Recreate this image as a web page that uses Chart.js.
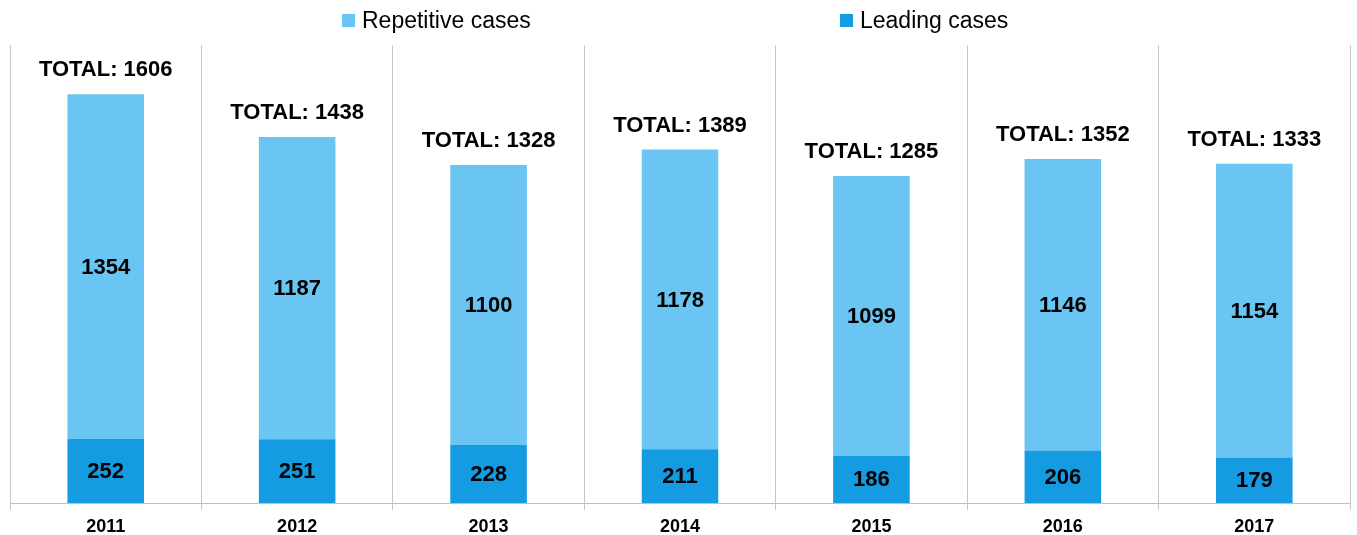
<!DOCTYPE html>
<html lang="en">
<head>
    <meta charset="UTF-8">
    <title>Cases by year</title>
    <script src="https://cdn.jsdelivr.net/npm/chart.js"></script>
    <style>
        body {
            margin: 0;
            background: #ffffff;
            font-family: "Liberation Sans", Arial, sans-serif;
        }
        #wrap {
            position: relative;
            width: 1357px;
            height: 535px;
        }
        .legend-item {
            position: absolute;
            top: 7px;
            font-size: 23px;
            color: #000;
            display: flex;
            align-items: center;
            white-space: nowrap;
        }
        .legend-item span.box {
            display: inline-block;
            width: 13px;
            height: 13px;
            margin-right: 7px;
        }
    </style>
</head>
<body>
<div id="wrap">
    <div class="legend-item" style="left: 342px;"><span class="box" style="background:#6BC5F2"></span>Repetitive cases</div>
    <div class="legend-item" style="left: 840px;"><span class="box" style="background:#149BE1"></span>Leading cases</div>
    <canvas id="casesChart"></canvas>
</div>

<script>
    // data
    const years = ["2011", "2012", "2013", "2014", "2015", "2016", "2017"];
    const leadingCases = [252, 251, 228, 211, 186, 206, 179];
    const repetitiveCases = [1354, 1187, 1100, 1178, 1099, 1146, 1154];
    const totals = [1606, 1438, 1328, 1389, 1285, 1352, 1333];

    const lightBlue = "#6BC5F2";
    const darkBlue = "#149BE1";

    // draws the numbers inside the bars and the totals above them
    const labelPlugin = {
        id: "barLabels",
        afterDatasetsDraw(chart) {
            const ctx = chart.ctx;
            ctx.save();
            ctx.fillStyle = "#000";
            ctx.textAlign = "center";
            ctx.textBaseline = "middle";
            ctx.font = "bold 22px 'Liberation Sans', Arial, sans-serif";
            chart.data.datasets.forEach(function(ds, i) {
                const meta = chart.getDatasetMeta(i);
                meta.data.forEach(function(bar, j) {
                    ctx.fillText(ds.data[j], bar.x, (bar.y + bar.base) / 2 + 1);
                });
            });
            const top = chart.getDatasetMeta(1);
            ctx.textBaseline = "alphabetic";
            top.data.forEach(function(bar, j) {
                ctx.fillText("TOTAL: " + totals[j], bar.x, bar.y - 18);
            });
            ctx.restore();
        }
    };

    const ctx = document.getElementById("casesChart").getContext("2d");
    new Chart(ctx, {
        type: "bar",
        data: {
            labels: years,
            datasets: [
                {
                    label: "Leading cases",
                    data: leadingCases,
                    backgroundColor: darkBlue,
                    borderWidth: 0
                },
                {
                    label: "Repetitive cases",
                    data: repetitiveCases,
                    backgroundColor: lightBlue,
                    borderWidth: 0
                }
            ]
        },
        options: {
            responsive: true,
            maintainAspectRatio: false,
            animation: false,
            layout: {
                padding: { left: 10, right: 7, top: 45, bottom: 0 }
            },
            datasets: {
                bar: {
                    categoryPercentage: 1.0,
                    barPercentage: 0.4
                }
            },
            scales: {
                x: {
                    stacked: true,
                    afterFit: function(scale) {
                        scale.height = 32;
                    },
                    grid: {
                        offset: true,
                        color: "#C8C8C8",
                        lineWidth: 1,
                        drawTicks: true,
                        tickLength: 7
                    },
                    border: {
                        color: "#BFBFBF"
                    },
                    ticks: {
                        color: "#000",
                        padding: 6,
                        font: {
                            family: "'Liberation Sans', Arial, sans-serif",
                            size: 18,
                            weight: "bold"
                        }
                    }
                },
                y: {
                    stacked: true,
                    display: false,
                    min: 0,
                    max: 1800
                }
            },
            plugins: {
                legend: { display: false },
                tooltip: { enabled: false }
            }
        },
        plugins: [labelPlugin]
    });
</script>
</body>
</html>
